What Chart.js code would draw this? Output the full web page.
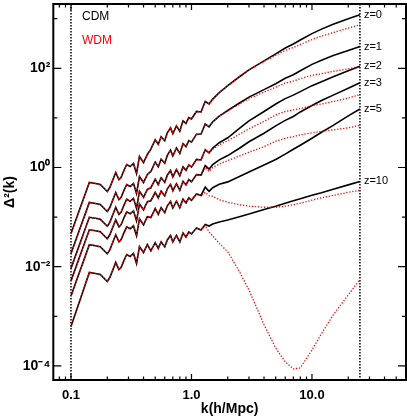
<!DOCTYPE html>
<html>
<head>
<meta charset="utf-8">
<script src="https://cdn.jsdelivr.net/npm/chart.js@4.4.0/dist/chart.umd.min.js"></script>
<style>
html,body{margin:0;padding:0;background:#fff;}
canvas{display:block;}
</style>
</head>
<body>
<canvas id="espectro" width="407" height="419"></canvas>
<script>
// k en h/Mpc
var kVals = [0.1, 0.142, 0.16, 0.175, 0.2, 0.21, 0.235, 0.25, 0.26, 0.275, 0.29, 0.31, 0.33, 0.35, 0.37, 0.4, 0.43,
             0.46, 0.5, 0.53, 0.56, 0.6, 0.63, 0.67, 0.7, 0.75, 0.8, 0.85, 0.9, 0.95, 1.0,
             1.1, 1.2, 1.3, 1.4, 1.5, 1.7, 2, 2.5, 3, 4, 5, 6, 7, 8, 10, 12, 15, 20, 25];

// Delta^2(k) CDM
var cdmZ0 = [0.0466, 0.499, 0.476, 0.455, 0.329, 0.395, 0.794, 0.573, 0.630, 0.871, 1.15, 1.05, 1.21, 0.757, 1.67, 1.26, 1.83,
             2.34, 3.63, 2.95, 4.17, 3.47, 5.01, 6.31, 4.79, 6.92, 5.37, 8.71, 7.76, 10.2, 9.55,
             13.5, 13.2, 21.4, 19.1, 24.0, 32.4, 44.7, 67.6, 93.3, 141, 195, 257, 309, 372, 501, 617, 776, 1000, 1202];
var cdmZ1 = [0.0184, 0.197, 0.188, 0.180, 0.130, 0.156, 0.313, 0.226, 0.248, 0.344, 0.454, 0.414, 0.475, 0.299, 0.658, 0.498, 0.723,
             0.832, 1.29, 1.04, 1.47, 1.22, 1.75, 2.24, 1.71, 2.48, 1.92, 3.01, 2.64, 3.48, 3.24,
             4.70, 4.75, 7.53, 6.62, 8.34, 10.9, 14.1, 20.0, 26.3, 37.2, 49.0, 63.1, 74.1, 89.1, 120, 145, 182, 229, 275];
var cdmZ2 = [0.00925, 0.0991, 0.0946, 0.0904, 0.0653, 0.0785, 0.158, 0.114, 0.125, 0.173, 0.229, 0.208, 0.239, 0.150, 0.331, 0.251, 0.364,
             0.389, 0.581, 0.451, 0.621, 0.501, 0.701, 0.867, 0.647, 0.908, 0.679, 1.03, 0.879, 1.13, 1.02,
             1.46, 1.42, 2.28, 1.98, 2.47, 3.16, 3.98, 6.17, 8.71, 13.5, 19.1, 24.5, 28.8, 33.9, 44.7, 53.7, 67.6, 89.1, 110];
var cdmZ3 = [0.00518, 0.0555, 0.0530, 0.0506, 0.0366, 0.0440, 0.0883, 0.0637, 0.0700, 0.0968, 0.128, 0.117, 0.134, 0.0841, 0.185, 0.140, 0.204,
             0.214, 0.316, 0.244, 0.333, 0.267, 0.371, 0.456, 0.339, 0.471, 0.349, 0.527, 0.446, 0.570, 0.513,
             0.719, 0.705, 1.09, 0.929, 1.14, 1.43, 1.74, 2.45, 3.31, 4.90, 6.92, 8.91, 10.7, 13.2, 17.8, 22.4, 28.8, 39.8, 51.3];
var cdmZ5 = [0.00258, 0.0277, 0.0264, 0.0252, 0.0182, 0.0219, 0.0441, 0.0318, 0.0349, 0.0483, 0.0638, 0.0582, 0.0668, 0.0420, 0.0925, 0.0700, 0.102,
             0.098, 0.149, 0.114, 0.155, 0.123, 0.169, 0.207, 0.152, 0.209, 0.154, 0.230, 0.193, 0.245, 0.219,
             0.292, 0.273, 0.403, 0.331, 0.392, 0.459, 0.513, 0.661, 0.813, 1.12, 1.45, 1.86, 2.34, 2.82, 3.89, 5.13, 7.08, 11.0, 15.1];
var cdmZ10 = [0.000621, 0.00764, 0.00729, 0.00697, 0.00504, 0.00605, 0.0122, 0.00877, 0.00964, 0.0133, 0.0176, 0.0161, 0.0185, 0.0116, 0.0255, 0.0193, 0.0281,
              0.0209, 0.0305, 0.0234, 0.0316, 0.0251, 0.0347, 0.0427, 0.0316, 0.0427, 0.0316, 0.0479, 0.0398, 0.0501, 0.0457,
              0.0603, 0.0550, 0.0708, 0.0661, 0.0724, 0.0794, 0.0871, 0.102, 0.115, 0.143, 0.166, 0.191, 0.214, 0.234, 0.275, 0.309, 0.363, 0.447, 0.525];

// Delta^2(k) WDM
var wdmZ0 = [0.0466, 0.499, 0.476, 0.455, 0.329, 0.395, 0.794, 0.573, 0.630, 0.871, 1.15, 1.05, 1.21, 0.757, 1.67, 1.26, 1.83,
             2.34, 3.63, 2.95, 4.17, 3.47, 5.01, 6.31, 4.79, 6.92, 5.37, 8.71, 7.76, 10.2, 9.55,
             13.5, 13.2, 21.4, 19.1, 24.0, 32.4, 44.7, 67.6, 93.3, 138, 182, 229, 263, 302, 380, 447, 525, 646, 759];
var wdmZ1 = [0.0184, 0.197, 0.188, 0.180, 0.130, 0.156, 0.313, 0.226, 0.248, 0.344, 0.454, 0.414, 0.475, 0.299, 0.658, 0.498, 0.723,
             0.832, 1.29, 1.04, 1.47, 1.22, 1.75, 2.24, 1.71, 2.48, 1.92, 3.01, 2.64, 3.48, 3.24,
             4.70, 4.75, 7.53, 6.62, 8.34, 10.9, 13.8, 19.1, 24.5, 33.1, 41.7, 50.1, 55.0, 61.7, 72.4, 77.6, 87.1, 97.7, 110];
var wdmZ2 = [0.00925, 0.0991, 0.0946, 0.0904, 0.0653, 0.0785, 0.158, 0.114, 0.125, 0.173, 0.229, 0.208, 0.239, 0.150, 0.331, 0.251, 0.364,
             0.389, 0.581, 0.451, 0.621, 0.501, 0.701, 0.867, 0.647, 0.908, 0.679, 1.03, 0.879, 1.13, 1.02,
             1.46, 1.42, 2.28, 1.98, 2.34, 2.88, 3.47, 4.68, 6.03, 8.51, 11.5, 13.5, 14.5, 15.5, 17.8, 19.1, 21.4, 25.1, 29.5];
var wdmZ3 = [0.00518, 0.0555, 0.0530, 0.0506, 0.0366, 0.0440, 0.0883, 0.0637, 0.0700, 0.0968, 0.128, 0.117, 0.134, 0.0841, 0.185, 0.140, 0.204,
             0.214, 0.316, 0.244, 0.333, 0.267, 0.371, 0.456, 0.339, 0.471, 0.349, 0.527, 0.446, 0.570, 0.513,
             0.719, 0.692, 1.00, 0.832, 1.00, 1.17, 1.38, 1.70, 2.04, 2.63, 3.39, 3.89, 4.17, 4.57, 5.01, 5.37, 5.75, 6.31, 7.08];
var wdmZ5 = [0.00258, 0.0277, 0.0264, 0.0252, 0.0182, 0.0219, 0.0441, 0.0318, 0.0349, 0.0483, 0.0638, 0.0582, 0.0668, 0.0420, 0.0925, 0.0700, 0.102,
             0.098, 0.149, 0.114, 0.155, 0.123, 0.169, 0.207, 0.152, 0.209, 0.154, 0.230, 0.193, 0.245, 0.219,
             0.292, 0.273, 0.316, 0.269, 0.263, 0.224, 0.200, 0.178, 0.166, 0.158, 0.158, 0.166, 0.178, 0.191, 0.219, 0.245, 0.275, 0.316, 0.347];
var wdmZ10 = [0.000621, 0.00764, 0.00729, 0.00697, 0.00504, 0.00605, 0.0122, 0.00877, 0.00964, 0.0133, 0.0176, 0.0161, 0.0185, 0.0116, 0.0255, 0.0193, 0.0281,
              0.0209, 0.0305, 0.0234, 0.0316, 0.0251, 0.0347, 0.0427, 0.0316, 0.0427, 0.0316, 0.0479, 0.0398, 0.0501, 0.0457,
              0.0603, 0.0550, 0.0676, 0.0501, 0.0417, 0.0295, 0.0200, 0.00794, 0.00339, 0.000676, 0.000229, 0.000120, 0.0000871, 0.0000912, 0.000209, 0.000447, 0.00107, 0.00269, 0.00550];

var zLabels = ["z=0", "z=1", "z=2", "z=3", "z=5", "z=10"];
var modelNames = ["CDM", "WDM"];

// ejes
var xTickVals = [0.1, 1, 10];
var xTickText = ["0.1", "1.0", "10.0"];
var xMinorVals = [0.08, 0.09, 0.2, 0.3, 0.4, 0.5, 0.6, 0.7, 0.8, 0.9, 2, 3, 4, 5, 6, 7, 8, 9, 20, 30, 40, 50];
var yTickVals = [1e-4, 1e-2, 1, 1e2];
var yTickText = ["10\u207b\u2074", "10\u207b\u00b2", "10\u2070", "10\u00b2"];
var yMinorVals = [1e-3, 1e-1, 10, 1e3];
var kLimits = [0.1, 25];

var cdmSeries = [cdmZ0, cdmZ1, cdmZ2, cdmZ3, cdmZ5, cdmZ10];
var wdmSeries = [wdmZ0, wdmZ1, wdmZ2, wdmZ3, wdmZ5, wdmZ10];

var fuente = '"Liberation Sans", Arial, Helvetica, sans-serif';

function puntos(serie) {
    return kVals.map(function (k, i) { return {x: k, y: serie[i]}; });
}

var datasets = [];
wdmSeries.forEach(function (s, i) {
    datasets.push({label: modelNames[1] + " " + zLabels[i], data: puntos(s), borderColor: "#ff0000",
        borderWidth: 1.3, borderDash: [1.3, 1.7], pointRadius: 0, fill: false, tension: 0, order: 0});
});
cdmSeries.forEach(function (s, i) {
    datasets.push({label: modelNames[0] + " " + zLabels[i], data: puntos(s), borderColor: "#000000",
        borderWidth: 1.6, pointRadius: 0, fill: false, tension: 0, order: 1});
});

var marco = {
    id: "marco",
    beforeDatasetsDraw: function (chart) {
        var ctx = chart.ctx, a = chart.chartArea, sx = chart.scales.x;
        ctx.save();
        ctx.strokeStyle = "#000";
        ctx.lineWidth = 1.5;
        ctx.setLineDash([1.5, 1.5]);
        kLimits.forEach(function (k) {
            var px = sx.getPixelForValue(k);
            ctx.beginPath();
            ctx.moveTo(px, a.top);
            ctx.lineTo(px, a.bottom);
            ctx.stroke();
        });
        ctx.restore();
    },
    afterDraw: function (chart) {
        var ctx = chart.ctx, a = chart.chartArea, sx = chart.scales.x, sy = chart.scales.y;
        ctx.save();
        ctx.setLineDash([]);
        ctx.strokeStyle = "#000";
        ctx.lineWidth = 1.2;
        ctx.beginPath();
        function xTick(v, len) {
            var p = sx.getPixelForValue(v);
            ctx.moveTo(p, a.bottom); ctx.lineTo(p, a.bottom - len);
            ctx.moveTo(p, a.top); ctx.lineTo(p, a.top + len);
        }
        function yTick(v, len) {
            var p = sy.getPixelForValue(v);
            ctx.moveTo(a.left, p); ctx.lineTo(a.left + len, p);
            ctx.moveTo(a.right, p); ctx.lineTo(a.right - len, p);
        }
        xTickVals.forEach(function (v) { xTick(v, 6); });
        xMinorVals.forEach(function (v) { xTick(v, 3.5); });
        yTickVals.forEach(function (v) { yTick(v, 8); });
        yMinorVals.forEach(function (v) { yTick(v, 4); });
        ctx.stroke();
        ctx.lineWidth = 2;
        ctx.strokeRect(a.left, a.top, a.right - a.left, a.bottom - a.top);

        // leyenda
        ctx.font = "12px " + fuente;
        ctx.textBaseline = "middle";
        ctx.textAlign = "left";
        ctx.fillStyle = "#000";
        ctx.fillText(modelNames[0], 82, 17);
        ctx.fillStyle = "#ff0000";
        ctx.fillText(modelNames[1], 82, 41);

        // etiquetas de redshift al final de cada curva CDM
        ctx.font = "11px " + fuente;
        ctx.fillStyle = "#000";
        var ult = kVals.length - 1;
        cdmSeries.forEach(function (s, i) {
            var px = sx.getPixelForValue(kVals[ult]) + 4;
            var py = sy.getPixelForValue(s[ult]);
            ctx.fillText(zLabels[i], px, py);
        });
        ctx.restore();
    }
};

new Chart(document.getElementById("espectro"), {
    type: "line",
    data: {datasets: datasets},
    options: {
        responsive: false,
        animation: false,
        devicePixelRatio: 1,
        layout: {padding: {top: 4, right: 1, left: 0, bottom: 0}},
        plugins: {legend: {display: false}, tooltip: {enabled: false}},
        scales: {
            x: {
                type: "logarithmic",
                min: 0.0713,
                max: 60.3,
                grid: {display: false, drawTicks: false},
                border: {display: false},
                afterBuildTicks: function (s) { s.ticks = xTickVals.map(function (v) { return {value: v}; }); },
                afterFit: function (s) { s.height = 39; s.paddingLeft = 0; s.paddingRight = 0; },
                ticks: {
                    autoSkip: false, maxRotation: 0, padding: 8, color: "#000",
                    font: {family: fuente, size: 13, weight: "bold"},
                    callback: function (v, i) { return xTickText[i]; }
                },
                title: {display: true, text: "k(h/Mpc)", color: "#000", font: {family: fuente, size: 14, weight: "bold"},
                    padding: {top: 0, bottom: 1}}
            },
            y: {
                type: "logarithmic",
                min: 5.2e-5,
                max: 1980,
                grid: {display: false, drawTicks: false},
                border: {display: false},
                afterBuildTicks: function (s) { s.ticks = yTickVals.map(function (v) { return {value: v}; }); },
                afterFit: function (s) { s.width = 53.3; s.paddingTop = 0; s.paddingBottom = 0; },
                ticks: {
                    autoSkip: false, padding: 3, color: "#000",
                    font: {family: fuente, size: 14, weight: "bold"},
                    callback: function (v, i) { return yTickText[i]; }
                },
                title: {display: true, text: "\u0394\u00b2(k)", color: "#000", font: {family: fuente, size: 14, weight: "bold"},
                    padding: {top: 2, bottom: 0}}
            }
        }
    },
    plugins: [marco]
});
</script>
</body>
</html>
